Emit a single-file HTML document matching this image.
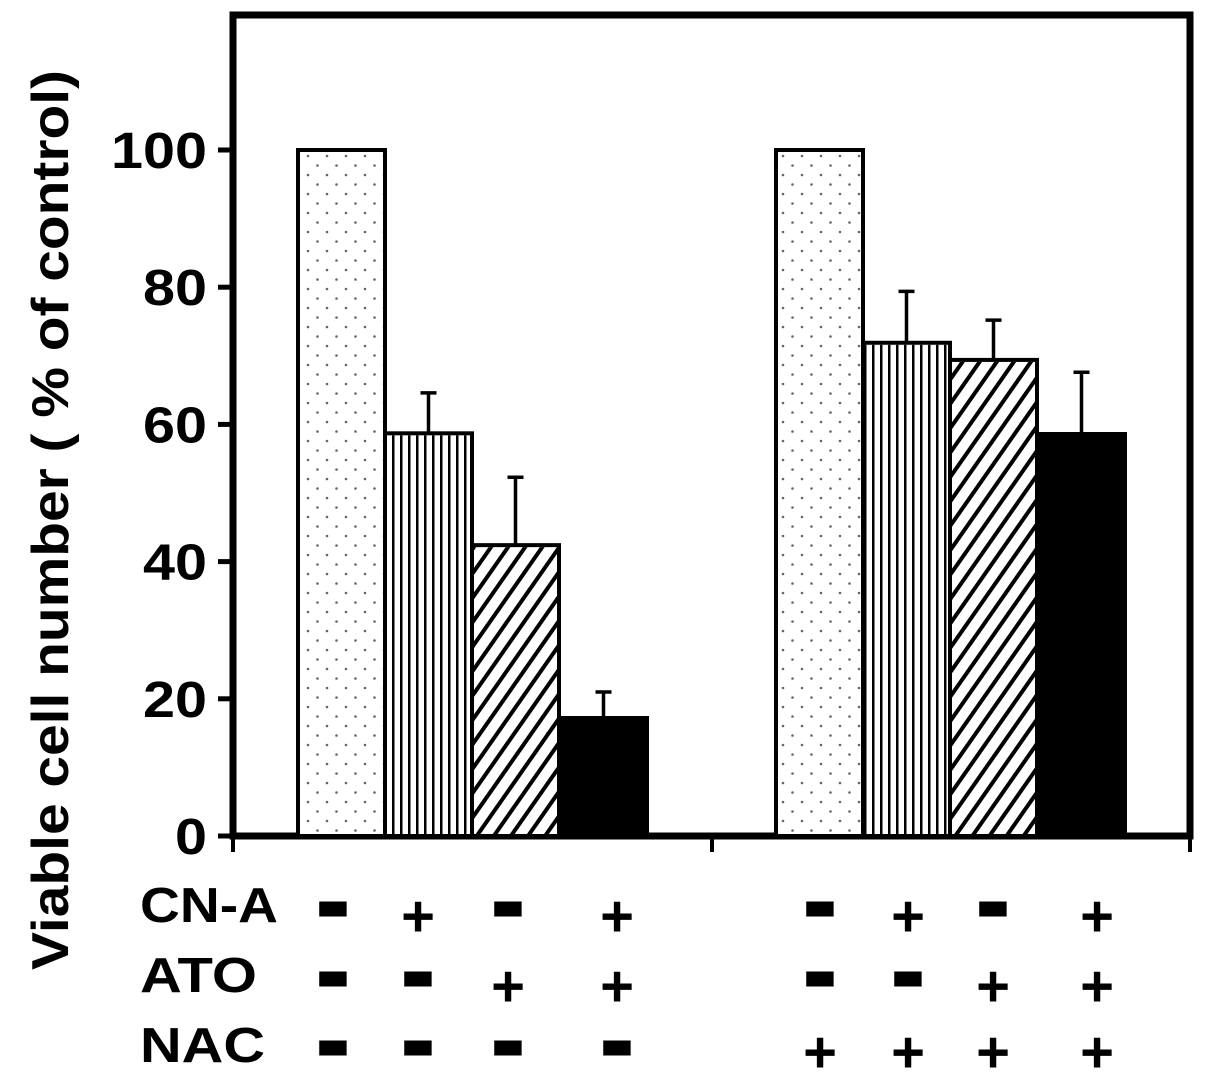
<!DOCTYPE html>
<html><head><meta charset="utf-8"><style>
html,body{margin:0;padding:0;background:#fff;}
svg{display:block;font-family:"Liberation Sans",Arial,sans-serif;font-weight:bold;}
</style></head><body>
<svg id="chart" width="1205" height="1078" viewBox="0 0 1205 1078" xmlns="http://www.w3.org/2000/svg">
<defs>
<pattern id="dots" width="19" height="19" patternUnits="userSpaceOnUse">
<circle cx="4" cy="4" r="1.3" fill="#666"/><circle cx="13.5" cy="13.5" r="1.3" fill="#666"/>
</pattern>
<pattern id="vlines" width="8" height="10" patternUnits="userSpaceOnUse">
<rect x="0" y="0" width="2.5" height="10" fill="#000"/>
</pattern>
<pattern id="diag" width="14" height="14" patternUnits="userSpaceOnUse" patternTransform="rotate(35)">
<rect x="0" y="0" width="4" height="14" fill="#000"/>
</pattern>
</defs>
<g id="plot"></g>
<text transform="translate(68,520) rotate(-90)" text-anchor="middle" font-size="52" textLength="900" lengthAdjust="spacingAndGlyphs">Viable cell number ( % of control)</text>
</svg>
<script>
const categories = ["CN-A-ATO-NAC-","CN-A+","ATO+","CN-A+ATO+","NAC+","NAC+ CN-A+","NAC+ ATO+","NAC+ CN-A+ATO+"];
const values = [100, 58.7, 42.4, 17.2, 100, 71.9, 69.4, 58.6];
const errors = [0, 5.9, 9.9, 3.8, 0, 7.5, 5.8, 9.0];
const fills = ["url(#dots)","url(#vlines)","url(#diag)","#000","url(#dots)","url(#vlines)","url(#diag)","#000"];
const yTicks = [0, 20, 40, 60, 80, 100];
const rowLabels = ["CN-A","ATO","NAC"];
const signsCN = ["-","+","-","+","-","+","-","+"];
const signsATO = ["-","-","+","+","-","-","+","+"];
const signsNAC = ["-","-","-","-","+","+","+","+"];

const NS="http://www.w3.org/2000/svg";
const g=document.getElementById('plot');
const x0=233, x1=1190, yTop=15, yBase=836, pxPerUnit=6.86;
const y=v=>yBase-v*pxPerUnit;
const barW=87;
const barX=i=>(i<4?298:776)+(i%4)*barW+(i%4===3?1:0);
function mk(tag,attrs,parent){const e=document.createElementNS(NS,tag);for(const k in attrs)e.setAttribute(k,attrs[k]);(parent||g).appendChild(e);return e;}

let f=mk('rect',{x:x0,y:yTop,width:x1-x0,height:yBase-yTop,fill:'none',stroke:'#000','stroke-width':7});



values.forEach((v,i)=>{
  const bx=barX(i), by=y(v);
  if(errors[i]>0){
    const cx=bx+barW/2, ey=y(v+errors[i]);
    const el=mk('path',{d:`M${cx} ${by} V${ey} M${cx-8} ${ey} H${cx+8}`,stroke:'#000','stroke-width':3.5,fill:'none'});
    
    
  }
  const r=mk('rect',{x:bx,y:by,width:barW,height:yBase-by,fill:'#fff',stroke:'#000','stroke-width':4});
  
  
  const p=mk('rect',{x:bx+2,y:by+2,width:barW-4,height:yBase-by-4,fill:fills[i]});
  
  
});

yTicks.forEach(t=>{
  const ty=y(t);
  const l=mk('line',{x1:x0-15,x2:x0,y1:ty,y2:ty,stroke:'#000','stroke-width':5});
  
  
  const tx=mk('text',{x:207,y:ty+18,'text-anchor':'end','font-size':51,textLength:String(t).length*32,lengthAdjust:'spacingAndGlyphs'});
  tx.textContent=t;
  
  
});
[x0,712,x1].forEach(tx=>{
  const l=mk('line',{x1:tx,x2:tx,y1:yBase,y2:yBase+16,stroke:'#000','stroke-width':4});
  
  
});

const colX=[333,418,508,617,820,908,993,1097];
const labelBase=[922,992,1062];
const labelW=[138,117,125];
const minusY=[908,978,1047];
const plusY=[914,984,1050];
const rows=[signsCN,signsATO,signsNAC];
rowLabels.forEach((lab,r)=>{
  const t=mk('text',{x:140,y:labelBase[r],'font-size':49,textLength:labelW[r],lengthAdjust:'spacingAndGlyphs'});
  t.textContent=lab;
  
  
  rows[r].forEach((s,c)=>{
    let st;
    if(s==='-'){
      st=mk('text',{x:0,y:16,'text-anchor':'middle','font-size':60,transform:`translate(${colX[c]},${minusY[r]}) scale(1.8,2.1)`});
    } else {
      st=mk('text',{x:colX[c],y:plusY[r]+22,'text-anchor':'middle','font-size':58});
    }
    st.textContent=s;
    
    
  });
});
</script>
</body></html>
